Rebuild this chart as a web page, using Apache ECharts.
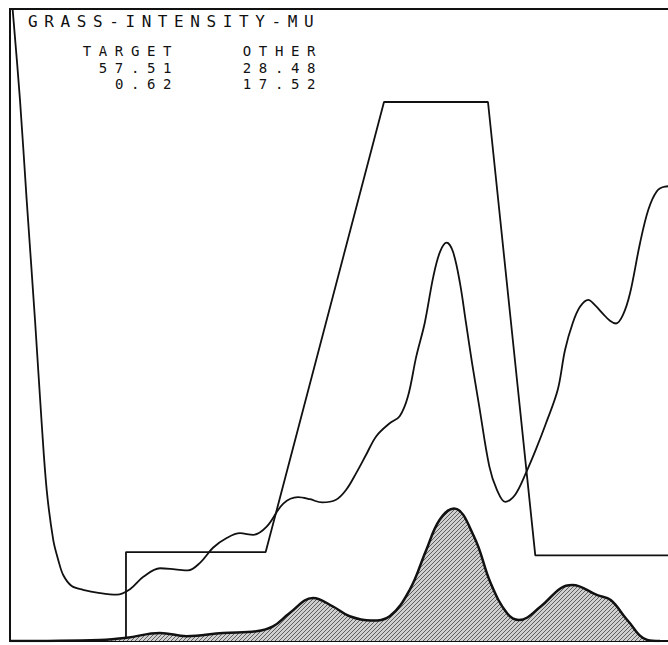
<!DOCTYPE html>
<html><head><meta charset="utf-8">
<script src="https://cdn.jsdelivr.net/npm/echarts@6/dist/echarts.min.js"></script>
<style>
html,body{margin:0;padding:0;background:#fff;overflow:hidden;}
#c{width:668px;height:645px;}
#c svg text{letter-spacing:7.6px;}
</style></head><body><div id="c"></div>
<script>
// ---- data (intensity 0..100, value 0..1 membership scale) ----
const titleText = 'GRASS-INTENSITY-MU';
const columnNames = ['TARGET', 'OTHER'];
const targetStats = ['57.51', '0.62'];
const otherStats = ['28.48', '17.52'];

// membership function (trapezoid)
const muX = [0, 17.31, 17.31, 38.16, 55.82, 71.34, 78.40, 100];
const muY = [0, 0, 0.165, 0.165, 1.0, 1.0, 0.159, 0.159];

// "other" class density curve
const otherX = [0.40, 1.49, 2.49, 3.73, 4.73, 5.48, 6.46, 7.21, 7.96, 9.21, 10.90, 13.43, 15.93, 17.91,
  19.90, 22.39, 24.63, 26.57, 28.36, 30.30, 32.34, 34.33, 36.31, 38.31, 40.79, 42.99, 44.78,
  46.57, 48.66, 50.15, 51.69, 53.13, 54.67, 56.67, 58.16, 59.40, 60.64, 61.90, 63.18, 64.18,
  65.18, 66.12, 67.16, 68.06, 68.96, 70.04, 71.54, 72.69, 73.93, 75.37, 77.01, 78.51, 80.00,
  81.75, 82.84, 83.99, 85.07, 86.31, 87.31, 88.51, 89.55, 90.45, 91.49, 92.54, 94.03, 95.27,
  96.52, 97.76, 99.25];
const otherY = [1.171, 1.004, 0.818, 0.596, 0.404, 0.280, 0.187, 0.150, 0.122, 0.102, 0.095, 0.089, 0.086, 0.096,
  0.119, 0.135, 0.133, 0.131, 0.145, 0.173, 0.191, 0.200, 0.197, 0.212, 0.255, 0.267, 0.263,
  0.257, 0.262, 0.280, 0.312, 0.345, 0.380, 0.404, 0.417, 0.454, 0.528, 0.590, 0.676, 0.722,
  0.739, 0.722, 0.664, 0.590, 0.516, 0.435, 0.324, 0.280, 0.258, 0.271, 0.312, 0.356, 0.404,
  0.466, 0.540, 0.590, 0.620, 0.633, 0.623, 0.607, 0.594, 0.589, 0.605, 0.645, 0.738, 0.800,
  0.834, 0.843, 0.844];

// "target" class density (shaded)
const targetX = [0, 13.43, 17.42, 22.39, 26.37, 31.79, 36.76, 39.25, 41.75, 45.22, 48.21, 50.70, 53.93,
  56.67, 59.66, 62.13, 64.13, 66.27, 69.25, 71.75, 74.22, 75.97, 79.21, 82.19, 83.93, 87.66,
  89.66, 92.13, 95.12, 97.01];
const targetY = [0, 0.002, 0.006, 0.015, 0.009, 0.015, 0.018, 0.027, 0.052, 0.080, 0.064, 0.046, 0.038,
  0.046, 0.095, 0.169, 0.225, 0.246, 0.194, 0.107, 0.051, 0.039, 0.064, 0.098, 0.104, 0.085,
  0.076, 0.039, 0.002, 0];

const zip = (a, b) => a.map((v, i) => [v, b[i]]);

// hatch pattern
function hatch() {
  const cv = document.createElement('canvas');
  cv.width = 4; cv.height = 4;
  const g = cv.getContext('2d');
  g.fillStyle = '#cfcfcf'; g.fillRect(0, 0, 4, 4);
  g.strokeStyle = '#5e5e5e'; g.lineWidth = 1;
  g.beginPath(); g.moveTo(0, 4); g.lineTo(4, 0); g.stroke();
  g.beginPath(); g.moveTo(-1, 1); g.lineTo(1, -1); g.stroke();
  g.beginPath(); g.moveTo(3, 5); g.lineTo(5, 3); g.stroke();
  return cv.toDataURL();
}

const chart = echarts.init(document.getElementById('c'), null, {renderer: 'svg'});
const txt = (s, x, y, align, size, lh) => ({type: 'text', x: x, y: y, z: 100,
  style: {text: s, font: size + 'px "DejaVu Sans Mono"', lineHeight: lh, fill: '#111', align: align, verticalAlign: 'middle'}});

chart.setOption({
  backgroundColor: '#ffffff',
  animation: false,
  grid: {left: 10, top: 9, width: 670, height: 632, outerBoundsMode: 'none', containLabel: false,
         show: true, borderColor: '#111', borderWidth: 2, backgroundColor: 'transparent'},
  xAxis: {type: 'value', min: 0, max: 100, show: false},
  yAxis: {type: 'value', min: 0, max: 1.1725, show: false},
  series: [
    {type: 'line', data: zip(targetX, targetY), smooth: 0.4, symbol: 'none',
     lineStyle: {color: '#111', width: 2.5},
     areaStyle: {color: {image: hatch(), repeat: 'repeat'}, opacity: 1}, z: 3},
    {type: 'line', data: zip(muX, muY), symbol: 'none',
     lineStyle: {color: '#111', width: 1.8}, z: 2},
    {type: 'line', data: zip(otherX, otherY), smooth: 0.35, symbol: 'none',
     lineStyle: {color: '#111', width: 1.8}, z: 2}
  ],
  graphic: [
    txt(titleText, 28, 21.5, 'left', 16, 18),
    txt([columnNames[0]].concat(targetStats).join('\n'), 179, 67.5, 'right', 14, 16.5),
    txt([columnNames[1]].concat(otherStats).join('\n'), 323, 67.5, 'right', 14, 16.5)
  ]
});
// title uses slightly tighter tracking than the stat columns
document.querySelectorAll('#c svg text').forEach(t => {
  if (t.textContent === titleText) t.style.letterSpacing = '6.6px';
});
</script></body></html>
